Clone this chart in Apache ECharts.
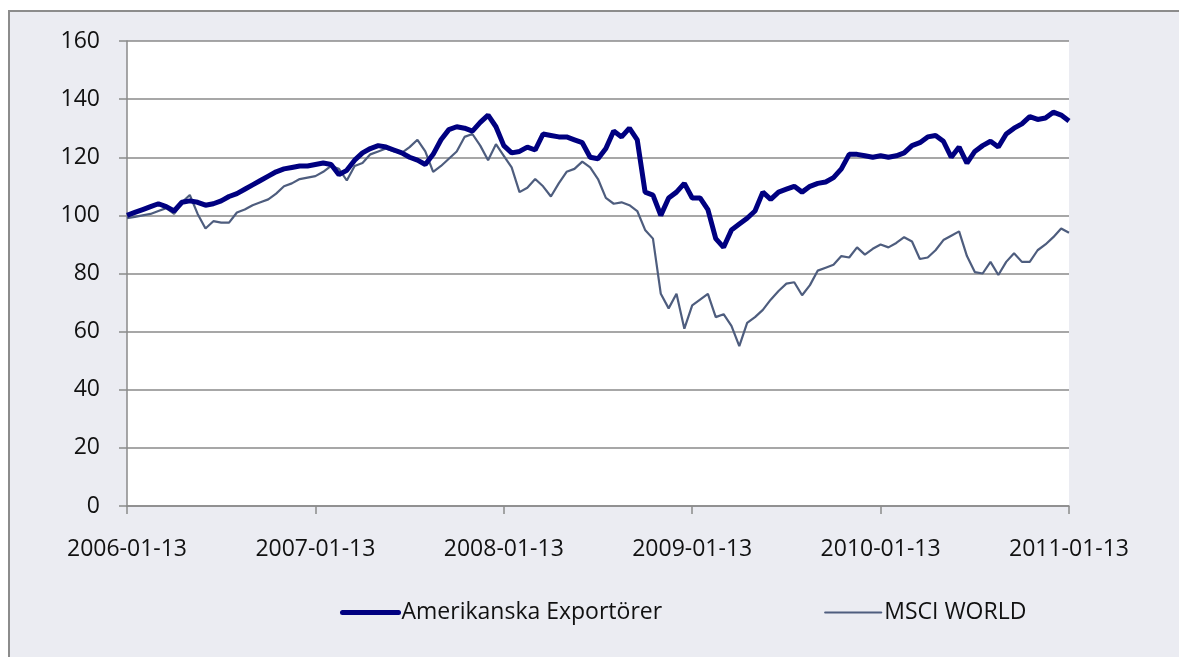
<!DOCTYPE html>
<html>
<head>
<meta charset="utf-8">
<script src="https://cdn.jsdelivr.net/npm/echarts@6/dist/echarts.min.js"></script>
<style>
  html, body { margin: 0; padding: 0; background: #fff; }
  #chart { width: 1179px; height: 657px; }
</style>
</head>
<body>
<div id="chart"></div>
<script>
// yearly tick labels, data every half month between them
const tickLabels = ['2006-01-13', '2007-01-13', '2008-01-13', '2009-01-13', '2010-01-13', '2011-01-13'];

const amerikanska = [
  100, 101, 102, 103, 104, 103, 101.5, 104.5, 105, 104.5,
  103.5, 104, 105, 106.5, 107.5, 109, 110.5, 112, 113.5, 115,
  116, 116.5, 117, 117, 117.5, 118, 117.5, 114, 115.5, 119,
  121.5, 123, 124, 123.5, 122.5, 121.5, 120, 119, 117.5, 121,
  126, 129.5, 130.5, 130, 129, 132, 134.5, 130.5, 124, 121.5,
  122, 123.5, 122.5, 128, 127.5, 127, 127, 126, 125, 120,
  119.5, 123, 129, 127, 130, 126, 108, 107, 100, 106,
  108, 111, 106, 106, 102, 92, 89, 95, 97, 99,
  101.5, 108, 105.5, 108, 109, 110, 108, 110, 111, 111.5,
  113, 116, 121, 121, 120.5, 120, 120.5, 120, 120.5, 121.5,
  124, 125, 127, 127.5, 125.5, 120, 123.5, 118, 122, 124,
  125.5, 123.5, 128, 130, 131.5, 134, 133, 133.5, 135.5, 134.5,
  132.5
];

const msciWorld = [
  99, 99.5, 100, 100.5, 101.5, 102.5, 100.5, 104.5, 107, 100.5,
  95.5, 98, 97.5, 97.5, 101, 102, 103.5, 104.5, 105.5, 107.5,
  110, 111, 112.5, 113, 113.5, 115, 117, 116, 112, 117,
  118, 121, 122, 123, 122, 121.5, 123.5, 126, 122, 115,
  117, 119.5, 122, 127, 128, 124, 119, 124.5, 120.5, 116.5,
  108, 109.5, 112.5, 110, 106.5, 111, 115, 116, 118.5, 116.5,
  112.5, 106, 104, 104.5, 103.5, 101.5, 95, 92, 73, 68,
  73, 61, 69, 71, 73, 65, 66, 62, 55, 63,
  65, 67.5, 71, 74, 76.5, 77, 72.5, 76, 81, 82,
  83, 86, 85.5, 89, 86.5, 88.5, 90, 89, 90.5, 92.5,
  91, 85, 85.5, 88, 91.5, 93, 94.5, 86, 80.5, 80,
  84, 79.5, 84, 87, 84, 84, 88, 90, 92.5, 95.5,
  94
];

const seriesNames = ['Amerikanska Exportörer', 'MSCI WORLD'];
const seriesColors = ['#000080', '#4e5d7e'];
const seriesWidths = [5, 2.2];

// category axis: label only at each yearly tick
const step = (amerikanska.length - 1) / (tickLabels.length - 1);
const categories = amerikanska.map((v, i) => (i % step === 0 ? tickLabels[i / step] : ''));

const chart = echarts.init(document.getElementById('chart'));
const font = '"Open Sans", "Liberation Sans", sans-serif';

chart.setOption({
  animation: false,
  backgroundColor: '#ffffff',
  graphic: [{
    type: 'rect',
    z: -10,
    silent: true,
    shape: { x: 9, y: 11, width: 1300, height: 800 },
    style: { fill: '#ebecf2', stroke: '#8c8c8c', lineWidth: 2 }
  }],
  grid: {
    left: 127, right: 110, top: 41, bottom: 151,
    show: true, backgroundColor: '#ffffff', borderWidth: 0
  },
  legend: {
    data: seriesNames.map((name, i) => ({
      name: name,
      itemStyle: { opacity: 0 },
      lineStyle: { color: seriesColors[i], width: seriesWidths[i], cap: 'round' }
    })),
    left: 335,
    top: 596,
    itemWidth: 56,
    itemHeight: 14,
    itemGap: 162,
    textStyle: { fontFamily: font, fontSize: 23, color: '#111', padding: [0, 0, 0, -2] }
  },
  xAxis: {
    type: 'category',
    data: categories,
    boundaryGap: false,
    axisLine: { lineStyle: { color: '#8a8a8a', width: 1.5 } },
    axisTick: { interval: step - 1, length: 8, lineStyle: { color: '#8a8a8a', width: 1.5 } },
    axisLabel: { interval: step - 1, margin: 32, fontFamily: font, fontSize: 23, color: '#111' },
    splitLine: { show: false }
  },
  yAxis: {
    type: 'value',
    min: 0, max: 160, interval: 20,
    axisLine: { show: true, lineStyle: { color: '#8a8a8a', width: 1.5 } },
    axisTick: { show: true, length: 8, lineStyle: { color: '#8a8a8a', width: 1.5 } },
    axisLabel: { margin: 27, fontFamily: font, fontSize: 23, color: '#111' },
    splitLine: { lineStyle: { color: '#8a8a8a', width: 1.5 } }
  },
  series: [
    {
      name: seriesNames[0],
      type: 'line',
      data: amerikanska,
      symbol: 'none',
      z: 3,
      color: seriesColors[0],
      lineStyle: { color: seriesColors[0], width: seriesWidths[0] }
    },
    {
      name: seriesNames[1],
      type: 'line',
      data: msciWorld,
      symbol: 'none',
      z: 2,
      color: seriesColors[1],
      lineStyle: { color: seriesColors[1], width: seriesWidths[1] }
    }
  ]
});
</script>
</body>
</html>
